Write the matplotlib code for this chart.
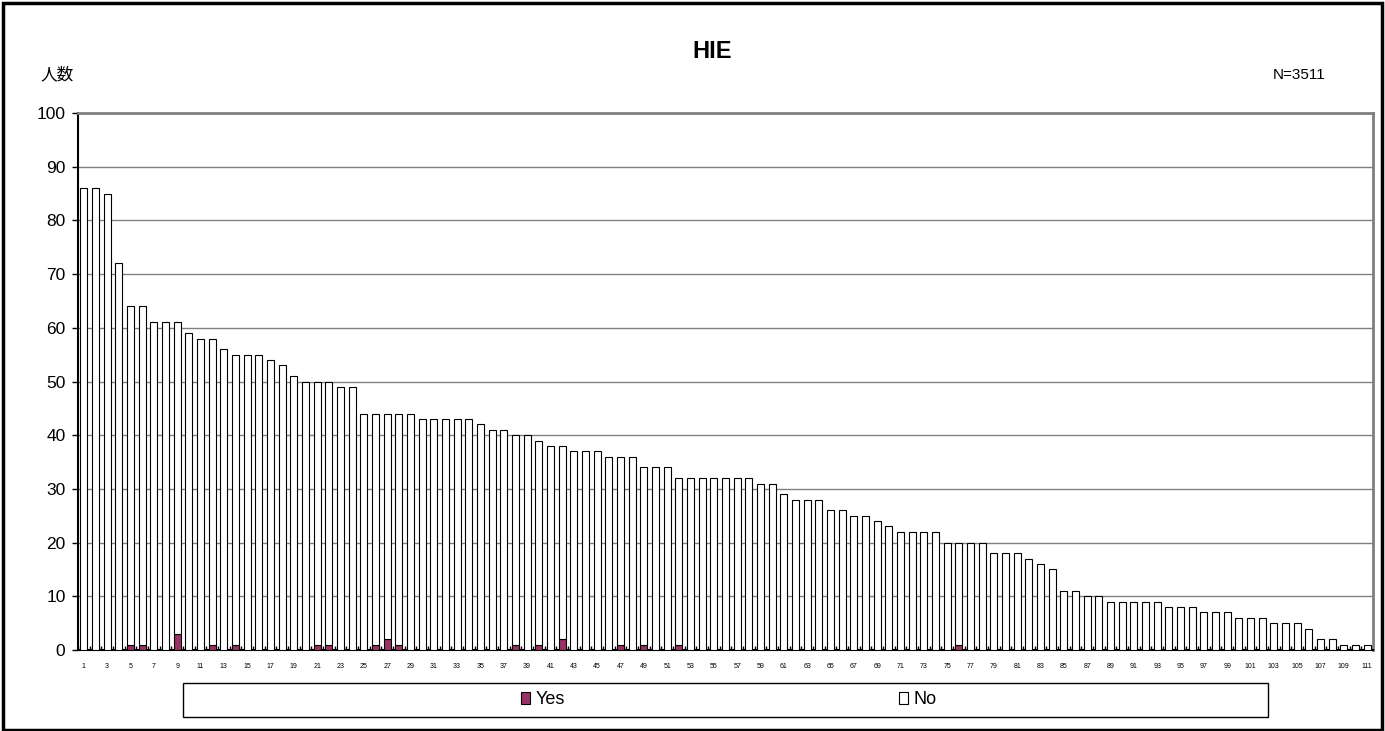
import numpy as np
import matplotlib
matplotlib.use('Agg')
import matplotlib.pyplot as plt
from matplotlib.patches import Rectangle, Patch

# totals per category (Yes + No)
totals = [86, 86, 85, 72, 64, 64, 61, 61, 61, 59,
          58, 58, 56, 55, 55, 55, 54, 53, 51, 50,
          50, 50, 49, 49, 44, 44, 44, 44, 44, 43,
          43, 43, 43, 43, 42, 41, 41, 40, 40, 39,
          38, 38, 37, 37, 37, 36, 36, 36, 34, 34,
          34, 32, 32, 32, 32, 32, 32, 32, 31, 31,
          29, 28, 28, 28, 26, 26, 25, 25, 24, 23,
          22, 22, 22, 22, 20, 20, 20, 20, 18, 18,
          18, 17, 16, 15, 11, 11, 10, 10, 9, 9,
          9, 9, 9, 8, 8, 8, 7, 7, 7, 6,
          6, 6, 5, 5, 5, 4, 2, 2, 1, 1,
          1]
# categories with a "Yes" count
yes_idx = [5, 6, 9, 12, 14, 21, 22, 26, 27, 28, 38, 40, 42, 47, 49, 52, 76]
yes_val = [1, 1, 3, 1, 1, 1, 1, 1, 2, 1, 1, 1, 2, 1, 1, 1, 1]

categories = np.arange(1, len(totals) + 1)
yes = np.zeros(len(totals))
for i, v in zip(yes_idx, yes_val):
    yes[i - 1] = v
no = np.array(totals) - yes

YES_COLOR = '#993366'

fig = plt.figure(figsize=(13.85, 7.31), dpi=100)
ax = fig.add_axes([78 / 1385, 1 - 650 / 731, 1295 / 1385, 537 / 731])

ax.bar(categories, yes, width=0.62, color=YES_COLOR, edgecolor='black', lw=0.8, zorder=3)
ax.bar(categories, no, bottom=yes, width=0.62, color='white', edgecolor='black', lw=0.8, zorder=3)

ax.set_xlim(0.5, len(totals) + 0.5)
ax.set_ylim(0, 100)
ax.set_yticks(np.arange(0, 101, 10))
ax.yaxis.grid(True, color='#808080', lw=1, zorder=0)
ax.tick_params(axis='y', labelsize=12.5, length=4, direction='out', width=1, pad=5)
for lab in ax.get_yticklabels():
    lab.set_family('Liberation Sans')

ax.set_xticks(categories[::2])
ax.set_xticklabels([str(c) for c in categories[::2]], fontsize=5, family='Liberation Sans')
ax.set_xticks(np.arange(0.5, len(totals) + 1, 1), minor=True)
ax.tick_params(axis='x', which='major', length=0, pad=9)
ax.tick_params(axis='x', which='minor', length=3, direction='in', width=1)

for side in ['top', 'right']:
    ax.spines[side].set_color('#808080')
    ax.spines[side].set_linewidth(2)
ax.spines['left'].set_linewidth(1.5)
ax.spines['bottom'].set_linewidth(1.5)

fig.text(712 / 1385, 1 - 52 / 731, 'HIE', ha='center', va='center',
         fontsize=17, fontweight='bold', family='Liberation Sans')
fig.text(40 / 1385, 1 - 75 / 731, '人数', ha='left', va='center',
         fontsize=12, family=['Noto Sans CJK JP', 'DejaVu Sans'])
fig.text(1326 / 1385, 1 - 75 / 731, 'N=3511', ha='right', va='center',
         fontsize=11, family='Liberation Sans')

# legend box
fig.patches.append(Rectangle((183 / 1385, 1 - 717 / 731), 1085 / 1385, 34 / 731,
                             transform=fig.transFigure, fill=False,
                             edgecolor='black', lw=1))
handles = [Patch(facecolor=YES_COLOR, edgecolor='black', lw=0.8, label='Yes'),
           Patch(facecolor='white', edgecolor='black', lw=0.8, label='No')]
fig.legend(handles=handles, loc='center', bbox_to_anchor=(729 / 1385, 1 - 700 / 731),
           ncol=2, frameon=False, handlelength=0.5, handleheight=0.6,
           handletextpad=0.3, columnspacing=18.5,
           prop={'family': 'Liberation Sans', 'size': 13})

# outer frame
fig.patches.append(Rectangle((0.002, 0.002), 0.996, 0.994, transform=fig.transFigure,
                             fill=False, edgecolor='black', lw=2.5))

fig.savefig('out.png', dpi=100)
